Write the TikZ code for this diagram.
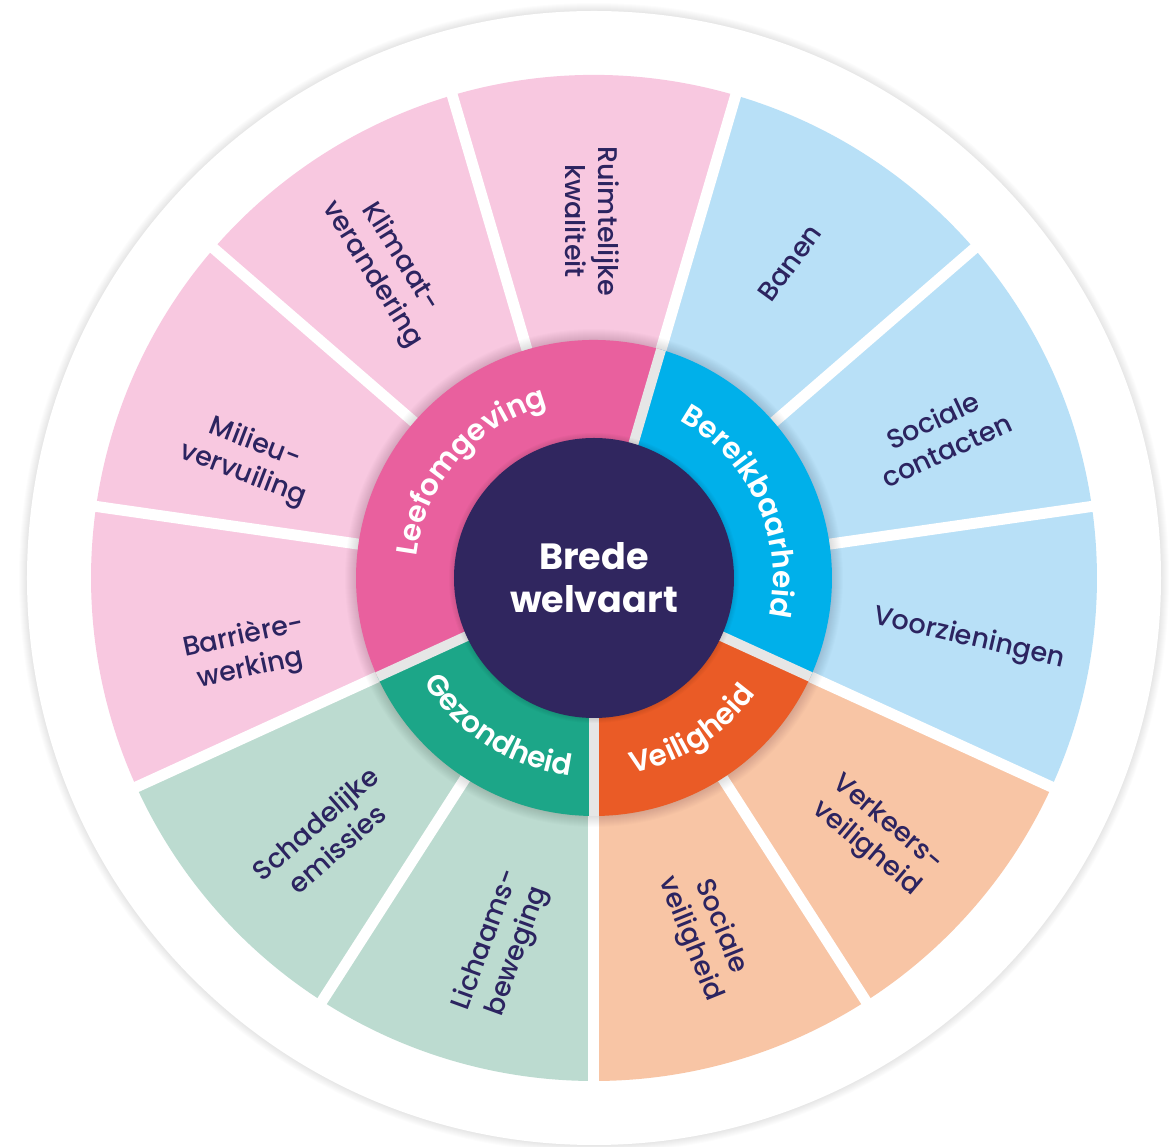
\documentclass[tikz,border=0pt]{standalone}
\usepackage{fontspec}
\setmainfont{Poppins}
\IfFontExistsTF{Poppins Medium}{\newfontfamily\medfam{Poppins Medium}}{\newfontfamily\medfam{Poppins}}
\IfFontExistsTF{Poppins SemiBold}{\newfontfamily\sbfam{Poppins SemiBold}}{\newfontfamily\sbfam{Poppins}[FakeBold=0.8]}
\usetikzlibrary{decorations.text}
\definecolor{pinkL}{HTML}{F8C8E0}
\definecolor{pinkD}{HTML}{E9609E}
\definecolor{blueL}{HTML}{B8E0F7}
\definecolor{blueD}{HTML}{00B0EA}
\definecolor{peachL}{HTML}{F8C5A5}
\definecolor{orangeD}{HTML}{EA5B26}
\definecolor{mintL}{HTML}{BCDBD0}
\definecolor{tealD}{HTML}{1CA688}
\definecolor{navy}{HTML}{30265F}
\definecolor{txtnavy}{HTML}{2C2460}
\definecolor{gapgray}{HTML}{E6E6E6}
\newcommand\innerlblfont{\sbfam\fontsize{29.5}{34}\selectfont}
\tikzset{
  outerlbl/.style={text=txtnavy, align=center, font=\medfam\fontsize{27}{33}\selectfont, inner sep=0pt},
  gapline/.style={draw=white, line width=11pt},
  innergap/.style={draw=gapgray, line width=10pt},
  innertext/.style={decorate, decoration={text along path, text align=center, text color=white, text={|\innerlblfont|#1}}},
}
\begin{document}
\begin{tikzpicture}[x=1pt,y=1pt]
\useasboundingbox (-594,-569) rectangle (579,578);
\fill[white] (-594,-569) rectangle (579,578);
% outer disk with soft shadow
\foreach \i in {1,...,8} \fill[black,opacity=0.012] (0,0) circle[radius={(567+\i)*1pt}];
\fill[white] (0,0) circle[radius=567pt];
% outer sectors
\fill[pinkL] (0,0) -- (73.6364:503pt) arc[start angle=73.6364, end angle=204.5455, radius=503pt] -- cycle;
\fill[mintL] (0,0) -- (204.5455:503pt) arc[start angle=204.5455, end angle=270, radius=503pt] -- cycle;
\fill[peachL] (0,0) -- (270:503pt) arc[start angle=270, end angle=335.4545, radius=503pt] -- cycle;
\fill[blueL] (0,0) -- (-24.5455:503pt) arc[start angle=-24.5455, end angle=73.6364, radius=503pt] -- cycle;
% white gaps between wedges
\coordinate (c) at (0,0);
\foreach \a [count=\k] in {270,237.2727,204.5455,171.8182,139.0909,106.3636,73.6364,40.9091,8.1818,-24.5455,-57.2727}
  \draw[gapline] (c) -- (\a:512pt) coordinate (g\k);
% shadow of inner ring
\foreach \i in {1,...,12} \fill[black,opacity=0.011] (c) circle[radius={(237+\i)*1pt}];
% inner ring
\fill[pinkD] (c) -- (73.6364:238pt) arc[start angle=73.6364, end angle=204.5455, radius=238pt] -- cycle;
\fill[tealD] (c) -- (204.5455:238pt) arc[start angle=204.5455, end angle=270, radius=238pt] -- cycle;
\fill[orangeD] (c) -- (270:238pt) arc[start angle=270, end angle=335.4545, radius=238pt] -- cycle;
\fill[blueD] (c) -- (-24.5455:238pt) arc[start angle=-24.5455, end angle=73.6364, radius=238pt] -- cycle;
\foreach \a [count=\k] in {73.6364,204.5455,270,335.4545}
  \draw[innergap] (c) -- (\a:238pt) coordinate (ig\k);
% centre
\foreach \i in {1,...,6} \fill[black,opacity=0.02] (c) circle[radius={(139+\i)*1pt}];
\fill[navy] (c) circle[radius=140pt];
\node[text=white, align=center, font=\bfseries\fontsize{36.5}{43}\selectfont, inner sep=0pt] (centre) at (0,0) {Brede\\welvaart};
% inner ring labels
\path[innertext=Leefomgeving] (204.5455:179pt) arc[start angle=204.5455, end angle=73.6364, radius=179pt];
\path[innertext=Bereikbaarheid] (73.6364:179pt) arc[start angle=73.6364, end angle=-24.5455, radius=179pt];
\path[innertext=Gezondheid] (204.5455:199pt) arc[start angle=204.5455, end angle=270, radius=199pt];
\path[innertext=Veiligheid] (270:199pt) arc[start angle=270, end angle=335.4545, radius=199pt];
% outer labels
\node[outerlbl, rotate=-90] (rk) at (90.3:357pt) {Ruimtelijke\\kwaliteit};
\node[outerlbl, rotate=-58] (kv) at (123.7:375pt) {Klimaat-\\verandering};
\node[outerlbl, rotate=-21] (mv) at (161:365pt) {Milieu-\\vervuiling};
\node[outerlbl, rotate=12] (bw) at (192.2:355pt) {Barrière-\\werking};
\node[outerlbl, rotate=41] (se) at (223.9:372pt) {Schadelijke\\emissies};
\node[outerlbl, rotate=70] (lb) at (256:379pt) {Lichaams-\\beweging};
\node[outerlbl, rotate=-68] (sv) at (-72.6:372pt) {Sociale\\veiligheid};
\node[outerlbl, rotate=-40] (vv) at (-42.4:383pt) {Verkeers-\\veiligheid};
\node[outerlbl, rotate=-13] (vz) at (-9.2:380pt) {Voorzieningen};
\node[outerlbl, rotate=25] (sc) at (22.5:374pt) {Sociale\\contacten};
\node[outerlbl, rotate=54] (bn) at (58.1:371pt) {Banen};
\end{tikzpicture}
\end{document}
